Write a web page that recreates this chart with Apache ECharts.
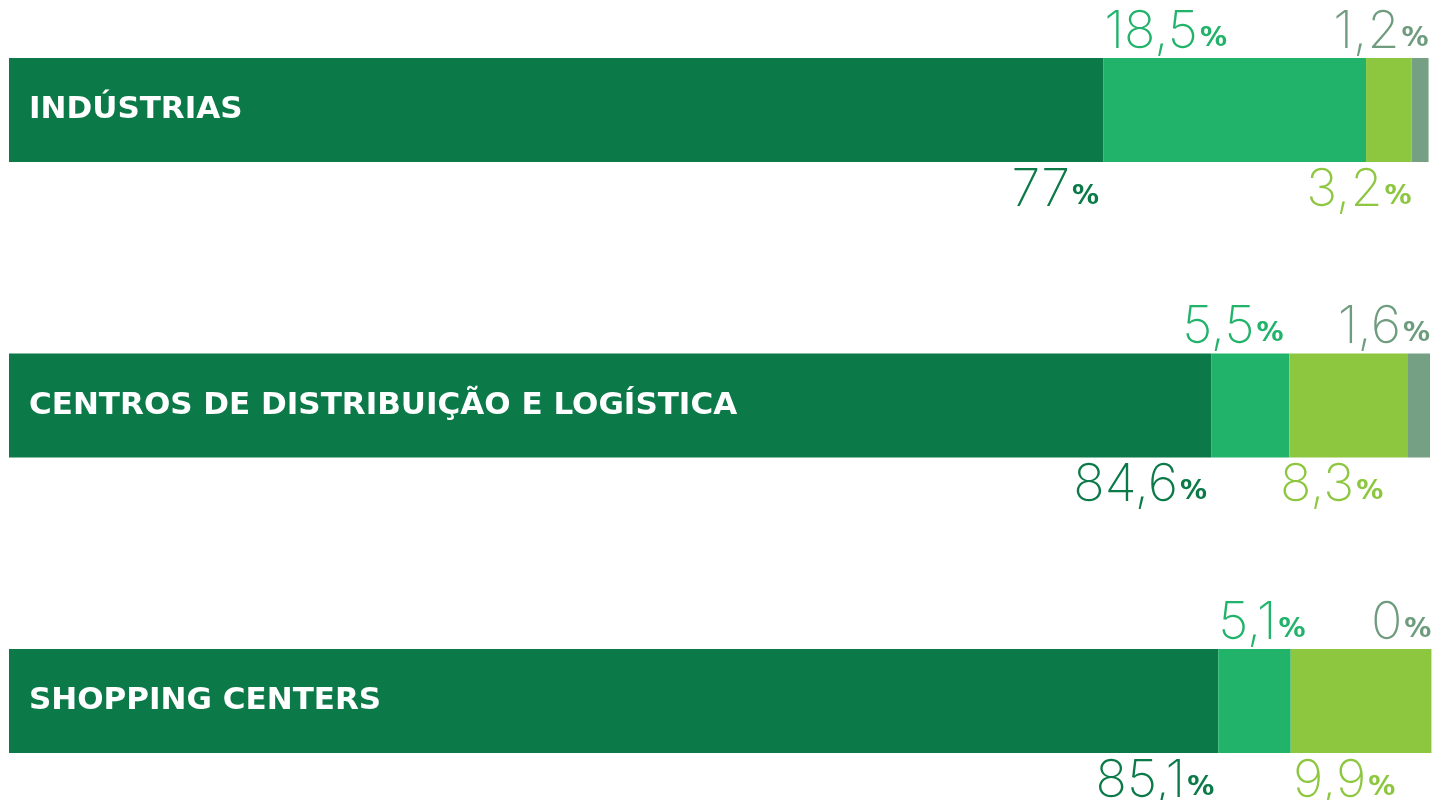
<!DOCTYPE html>
<html>
<head>
<meta charset="utf-8">
<script src="https://cdn.jsdelivr.net/npm/echarts@6/dist/echarts.min.js"></script>
<style>
  html, body { margin: 0; padding: 0; background: #fff; }
  #chart { width: 1432px; height: 800px; }
</style>
</head>
<body>
<div id="chart"></div>
<script>
var categories = ['INDÚSTRIAS', 'CENTROS DE DISTRIBUIÇÃO E LOGÍSTICA', 'SHOPPING CENTERS'];
var darkValues = [77, 84.6, 85.1];
var midValues = [18.5, 5.5, 5.1];
var lightValues = [3.2, 8.3, 9.9];
var grayValues = [1.2, 1.6, 0];

// hand nudges of the labels, as in the original layout
var midShift = [1, -29, 0];
var lightShift = [0, -24, -36];

var numFont = 'Inter';
function fmt(p) {
  return '{n|' + String(p.value).replace('.', ',') + '}{p|%}';
}
function rich(color) {
  return {
    n: { fontFamily: numFont, fontWeight: 200, fontSize: 52, lineHeight: 52, color: color, verticalAlign: 'bottom' },
    p: { fontFamily: 'DejaVu Sans', fontWeight: 'bold', fontSize: 27, lineHeight: 27, color: color, verticalAlign: 'bottom', padding: [0, 0, 6, 2] }
  };
}

var myChart = echarts.init(document.getElementById('chart'));
var option = {
  animation: false,
  grid: { left: 9, right: 2, top: 110, bottom: 99 },
  xAxis: { type: 'value', min: 0, max: 100, show: false },
  yAxis: {
    type: 'category',
    data: categories,
    inverse: true,
    boundaryGap: false,
    z: 10,
    axisLine: { show: false },
    axisTick: { show: false },
    splitLine: { show: false },
    axisLabel: {
      inside: true,
      margin: 20,
      align: 'left',
      color: '#fff',
      fontFamily: 'DejaVu Sans',
      fontWeight: 'bold',
      fontSize: 31,
      padding: [6, 0, 0, 0]
    }
  },
  series: [
    {
      name: 'dark', type: 'bar', stack: 'total', barWidth: 104, clip: false,
      itemStyle: { color: '#0b7a48' },
      label: {
        show: true, position: ['100%', '100%'], align: 'right', verticalAlign: 'top',
        offset: [-4, 2], formatter: fmt, rich: rich('#0b7a48')
      },
      data: darkValues
    },
    {
      name: 'mid', type: 'bar', stack: 'total', barWidth: 104, clip: false,
      itemStyle: { color: '#22b36b' },
      label: {
        show: true, position: [0, 0], align: 'left', verticalAlign: 'bottom',
        formatter: fmt, rich: rich('#22b36b')
      },
      data: midValues.map(function (v, i) {
        return { value: v, label: { offset: [midShift[i], 0] } };
      })
    },
    {
      name: 'light', type: 'bar', stack: 'total', barWidth: 104, clip: false,
      itemStyle: { color: '#8dc63f' },
      label: {
        show: true, position: ['100%', '100%'], align: 'right', verticalAlign: 'top',
        formatter: fmt, rich: rich('#8dc63f')
      },
      data: lightValues.map(function (v, i) {
        return { value: v, label: { offset: [lightShift[i], 2] } };
      })
    },
    {
      name: 'gray', type: 'bar', stack: 'total', barWidth: 104, clip: false,
      itemStyle: { color: '#76a084' },
      label: {
        show: true, position: ['100%', 0], align: 'right', verticalAlign: 'bottom',
        formatter: fmt, rich: rich('#6f9c7e')
      },
      data: grayValues
    }
  ]
};
myChart.setOption(option);
</script>
</body>
</html>
